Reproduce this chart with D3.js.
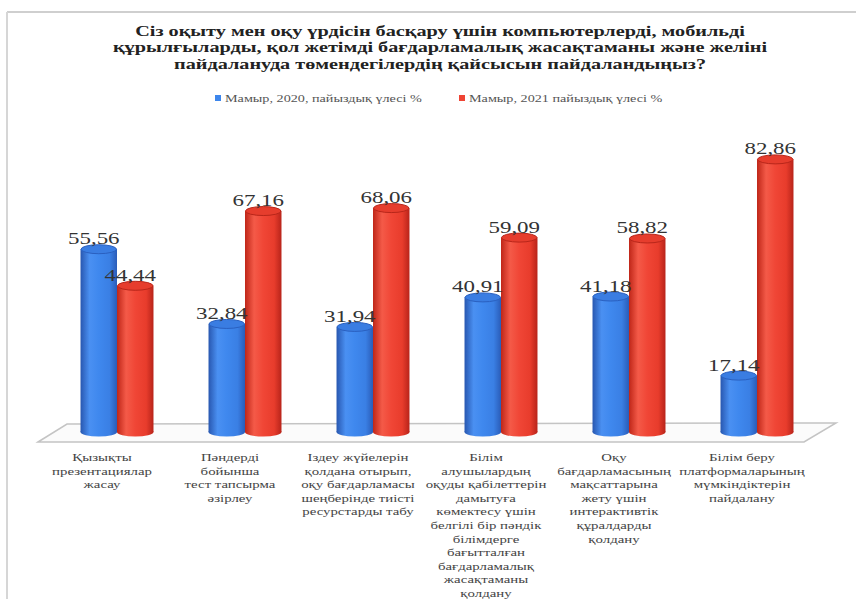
<!DOCTYPE html>
<html><head><meta charset="utf-8">
<script src="https://cdn.jsdelivr.net/npm/d3@7"></script>
<style>html,body{margin:0;padding:0;background:#fff;}svg{display:block;} text{font-family:"Liberation Serif","DejaVu Serif",serif;}</style>
</head><body>
<svg id="c" width="856" height="599"></svg>
<script>
const titleLines = [
  "Сіз оқыту мен оқу үрдісін басқару үшін компьютерлерді, мобильді",
  "құрылғыларды, қол жетімді бағдарламалық жасақтаманы және желіні",
  "пайдалануда төмендегілердің қайсысын пайдаландыңыз?"
];
const seriesNames = ["Мамыр, 2020, пайыздық үлесі %", "Мамыр, 2021 пайыздық үлесі %"];
const categories = [
  ["Қызықты", "презентациялар", "жасау"],
  ["Пәндерді", "бойынша", "тест тапсырма", "әзірлеу"],
  ["Іздеу жүйелерін", "қолдана отырып,", "оқу бағдарламасы", "шеңберінде тиісті", "ресурстарды  табу"],
  ["Білім", "алушылардың", "оқуды қабілеттерін", "дамытуға", "көмектесу үшін", "белгілі бір пәндік", "білімдерге", "бағытталған", "бағдарламалық", "жасақтаманы", "қолдану"],
  ["Оқу", "бағдарламасының", "мақсаттарына", "жету  үшін", "интерактивтік", "құралдарды", "қолдану"],
  ["Білім беру", "платформаларының", "мүмкіндіктерін", "пайдалану"]
];
const values2020 = [55.56, 32.84, 31.94, 40.91, 41.18, 17.14];
const values2021 = [44.44, 67.16, 68.06, 59.09, 58.82, 82.86];

const svg = d3.select("#c");
const SX = 1.35;

// frame lines
svg.append("line").attr("x1",7).attr("x2",856).attr("y1",12).attr("y2",12).attr("stroke","#cfcfcf").attr("stroke-width",2);
svg.append("line").attr("x1",7).attr("x2",7).attr("y1",12).attr("y2",599).attr("stroke","#d6d6d6").attr("stroke-width",2);

// title
const tg = svg.append("text").style("font-weight","bold").attr("font-size",15).attr("fill","#222")
  .attr("text-anchor","middle").attr("transform",`translate(440,0) scale(${SX},1)`);
titleLines.forEach((t,i)=>tg.append("tspan").attr("x",0).attr("y",36+i*16.5).text(t));

// legend
const legX = [218, 462];
const colors = ["#3d86ec","#ef4434"];
seriesNames.forEach((n,i)=>{
  svg.append("rect").attr("x",legX[i]-3).attr("y",95).attr("width",6).attr("height",6).attr("fill",colors[i]);
  svg.append("text").attr("font-size",10.5).attr("fill","#555")
    .attr("transform",`translate(${legX[i]+7},101.5) scale(${SX},1)`).text(n);
});

// scales
const base = 432;
const y = d3.scaleLinear().domain([0,100]).range([base, base-329]);
const x0 = d3.scaleBand().domain(d3.range(categories.length)).range([53,821]).paddingInner(0.43).paddingOuter(0.215);
const x1 = d3.scaleBand().domain([0,1]).range([0,x0.bandwidth()]);

// floor
svg.append("polygon").attr("points","38,442 67,424 836,423 804,442").attr("fill","#fbfbfb").attr("stroke","#c4c4c4").attr("stroke-width",1.5);

// gradients
const defs = svg.append("defs");
const grads = [
  ["gb", ["#2857b0","#4a90f2","#3f88ee","#3a7fe4","#2a5cb8"]],
  ["gr", ["#bf2618","#f45a48","#f04636","#e83c2c","#b8241a"]]
];
grads.forEach(([id,cs])=>{
  const g = defs.append("linearGradient").attr("id",id).attr("x1","0%").attr("x2","100%").attr("y1","0%").attr("y2","0%");
  [0,0.25,0.5,0.8,1].forEach((o,i)=>g.append("stop").attr("offset",o).attr("stop-color",cs[i]));
});
const topFill = ["#3a7de2","#e63d2d"];
const topStroke = ["#2a60c0","#b8261a"];

const ry = 4.5;
const data = [];
categories.forEach((c,i)=>{ data.push({i,s:0,v:values2020[i]}); data.push({i,s:1,v:values2021[i]}); });

const bars = svg.append("g").selectAll("g").data(data).join("g");
bars.each(function(d){
  const g = d3.select(this);
  const bx = x0(d.i)+x1(d.s), w = x1.bandwidth(), cx = bx+w/2, ty = y(d.v);
  g.append("ellipse").attr("cx",cx).attr("cy",base).attr("rx",w/2).attr("ry",ry).attr("fill",`url(#${d.s?"gr":"gb"})`);
  g.append("rect").attr("x",bx).attr("y",ty).attr("width",w).attr("height",base-ty).attr("fill",`url(#${d.s?"gr":"gb"})`);
  g.append("ellipse").attr("cx",cx).attr("cy",ty).attr("rx",w/2-0.5).attr("ry",ry).attr("fill",topFill[d.s]).attr("stroke",topStroke[d.s]).attr("stroke-width",1);
});

// value labels
const fmt = v => v.toFixed(2).replace(".",",");
data.forEach(d=>{
  const cx = x0(d.i)+x1(d.s)+x1.bandwidth()/2;
  svg.append("text").attr("font-size",17).attr("fill","#333").attr("text-anchor","middle")
    .attr("transform",`translate(${cx-5},${y(d.v)-ry-0.5}) scale(${SX},1)`).text(fmt(d.v));
});

// category labels
categories.forEach((lines,i)=>{
  const cx = x0(i)+x0.bandwidth()/2 - 15;
  const t = svg.append("text").attr("font-size",11).attr("fill","#444").attr("text-anchor","middle")
    .attr("transform",`translate(${cx},0) scale(${SX},1)`);
  lines.forEach((l,k)=>t.append("tspan").attr("x",0).attr("y",461+k*13.6).text(l));
});
</script>
</body></html>
